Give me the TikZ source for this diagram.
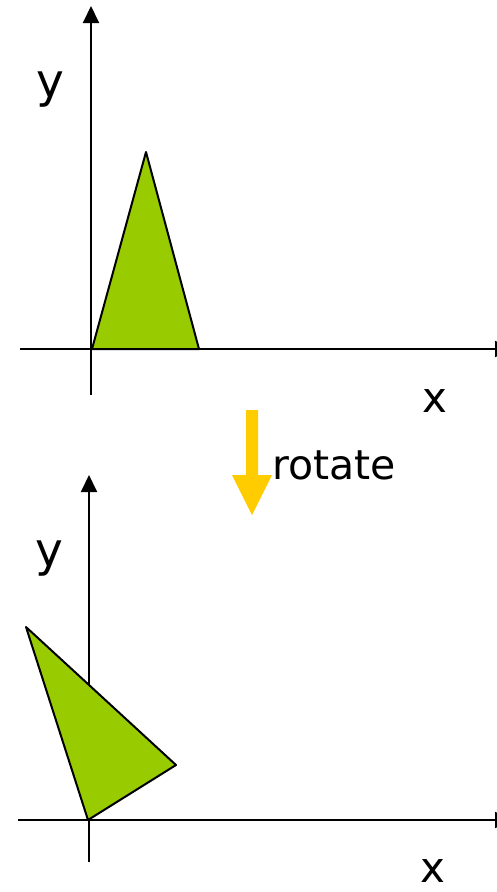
\documentclass[tikz,border=0pt]{standalone}
\usepackage{fontspec}
\setmainfont{DejaVu Sans}
\usepackage{tikz}
\usetikzlibrary{arrows.meta}
\definecolor{trigreen}{RGB}{153,204,0}
\definecolor{rotyellow}{RGB}{255,204,0}

\tikzset{
  axis/.style={line width=2pt, -{Triangle[length=17pt,width=16pt]}},
  tri/.style={fill=trigreen, draw=black, line width=2pt, line join=round},
  axlabel/.style={inner sep=0pt, font=\fontsize{42}{42}\selectfont},
  ylabel/.style={inner sep=0pt, font=\fontsize{47}{47}\selectfont},
}

\begin{document}
\begin{tikzpicture}[x=1pt, y=-1pt]
  \useasboundingbox (0,0) rectangle (497,892);

  %% Top frame: axes
  \coordinate (tyb) at (91,395);
  \coordinate (tyt) at (91,6);
  \coordinate (txl) at (20,349);
  \coordinate (txr) at (512,349);
  \draw[axis] (tyb) -- (tyt);
  \draw[axis] (txl) -- (txr);
  \node[ylabel] (ty) at (50,90) {y};
  \node[axlabel] (tx) at (435,401) {x};

  %% Top triangle (upright)
  \draw[tri] (92,349) -- (146,152) -- (199,349) -- cycle;

  %% Rotate arrow
  \fill[rotyellow] (246,410) -- (258,410) -- (258,475) -- (272,475)
    -- (252,515) -- (232,475) -- (246,475) -- cycle;
  \node[axlabel, font=\fontsize{41}{41}\selectfont, anchor=base west]
    (rot) at (272,479) {rotate};

  %% Bottom frame: axes
  \coordinate (byb) at (89,862);
  \coordinate (byt) at (89,475);
  \coordinate (bxl) at (18,820);
  \coordinate (bxr) at (512,820);
  \draw[axis] (byb) -- (byt);
  \draw[axis] (bxl) -- (bxr);
  \node[ylabel] (by) at (49,559) {y};
  \node[axlabel] (bx) at (433,871) {x};

  %% Bottom triangle (rotated)
  \draw[tri] (26,627) -- (176,765) -- (88,820) -- cycle;

\end{tikzpicture}
\end{document}
